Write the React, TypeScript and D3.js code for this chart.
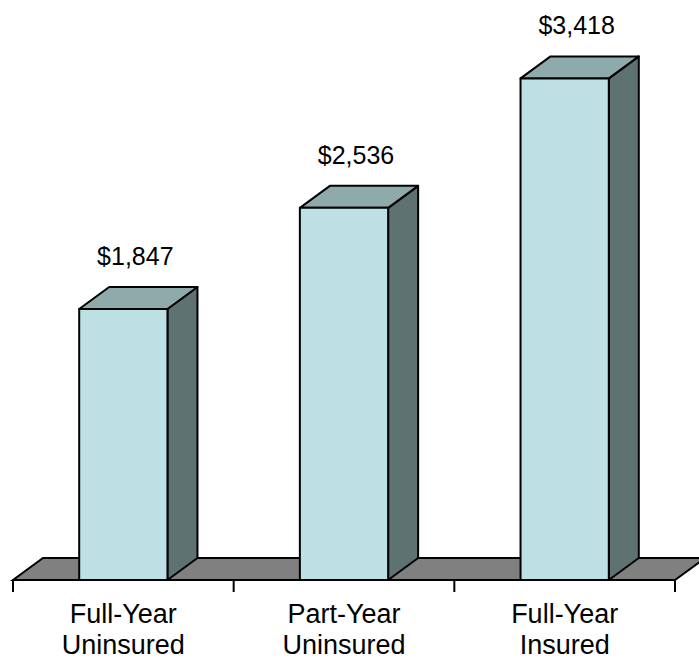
import React from 'react';
import * as d3 from 'd3';

const categories = [
  ['Full-Year', 'Uninsured'],
  ['Part-Year', 'Uninsured'],
  ['Full-Year', 'Insured'],
];
const values = [1847, 2536, 3418];
const valueLabels = ['$1,847', '$2,536', '$3,418'];

const width = 699;
const height = 660;
const baseY = 580;
const depthX = 30;
const depthY = -22;
const font = '"Liberation Sans", Arial, sans-serif';

const frontColor = '#BCE0E3';
const topColor = '#8FAAAA';
const sideColor = '#5F7272';
const floorColor = '#808080';

function App() {
  const keys = categories.map((c) => c.join(' '));
  const x = d3.scaleBand<string>().domain(keys).range([13, 675]).padding(0);
  const y = d3.scaleLinear().domain([0, 4000]).range([baseY, baseY - 587]);
  const barW = x.bandwidth() * 0.4;

  const floor = [
    [x.range()[0], baseY],
    [x.range()[1], baseY],
    [x.range()[1] + depthX, baseY + depthY],
    [x.range()[0] + depthX, baseY + depthY],
  ];
  const poly = (pts: number[][]) => pts.map((p) => p.join(',')).join(' ');

  const ticks = [...keys.map((k) => x(k) as number), x.range()[1]];

  return (
    <svg
      width={width}
      height={height}
      style={{ position: 'absolute', left: 0, top: 0, background: '#fff' }}
    >
      <polygon points={poly(floor)} fill={floorColor} stroke="#000" strokeWidth={2} strokeLinejoin="miter" />
      {ticks.map((t, i) => (
        <line key={i} x1={t} x2={t} y1={baseY} y2={baseY + 12} stroke="#000" strokeWidth={2} />
      ))}
      {keys.map((k, i) => {
        const cx = (x(k) as number) + x.bandwidth() / 2;
        const x0 = cx - barW / 2;
        const x1 = cx + barW / 2;
        const yt = y(values[i]);
        const front = [[x0, yt], [x1, yt], [x1, baseY], [x0, baseY]];
        const top = [[x0, yt], [x0 + depthX, yt + depthY], [x1 + depthX, yt + depthY], [x1, yt]];
        const side = [[x1, yt], [x1 + depthX, yt + depthY], [x1 + depthX, baseY + depthY], [x1, baseY]];
        return (
          <g key={k} stroke="#000" strokeWidth={2} strokeLinejoin="round">
            <polygon points={poly(side)} fill={sideColor} />
            <polygon points={poly(top)} fill={topColor} />
            <polygon points={poly(front)} fill={frontColor} />
            <text
              x={cx + 12}
              y={yt - 44}
              stroke="none"
              fill="#000"
              textAnchor="middle"
              fontFamily={font}
              fontSize={25}
            >
              {valueLabels[i]}
            </text>
          </g>
        );
      })}
      {keys.map((k, i) => {
        const cx = (x(k) as number) + x.bandwidth() / 2;
        return (
          <text key={k} textAnchor="middle" fontFamily={font} fontSize={27} fill="#000">
            <tspan x={cx} y={623}>{categories[i][0]}</tspan>
            <tspan x={cx} y={654}>{categories[i][1]}</tspan>
          </text>
        );
      })}
    </svg>
  );
}

export default App;
